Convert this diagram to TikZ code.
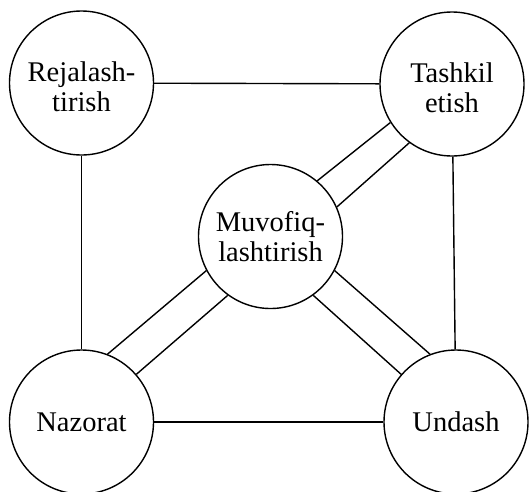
\documentclass[tikz,border=0pt]{standalone}
\usepackage{fontspec}
\setmainfont{Liberation Serif}
\tikzset{
  phase/.style={draw=black, circle, fill=white, line width=1.4pt, minimum size=144pt, inner sep=0pt, align=center, font=\fontsize{28.5}{30.5}\selectfont},
  toprow/.style={phase, text height=58pt},
  link/.style={line width=1.4pt}
}
\begin{document}
\begin{tikzpicture}[x=1pt,y=-1pt]
\useasboundingbox (0,0) rectangle (529,491);
\node[toprow] (rej) at (81.5,83) {Rejalash-\\tirish};
\node[toprow] (tash) at (452,84) {Tashkil\\etish};
\node[phase] (muv) at (270.5,236.5) {Muvofiq-\\lashtirish};
\node[phase] (naz) at (81.5,422) {Nazorat};
\node[phase] (und) at (456,422) {Undash};
\draw[link] (rej) -- (tash);
\draw[link] (tash) -- (und);
\draw[link] (und) -- (naz);
\draw[link] (naz) -- (rej);
\draw[link] (muv.50) -- (tash.212);
\draw[link] (muv.24) -- (tash.234);
\draw[link] (muv.208) -- (naz.69);
\draw[link] (muv.234) -- (naz.41);
\draw[link] (muv.332) -- (und.111);
\draw[link] (muv.306) -- (und.139);
\end{tikzpicture}
\end{document}
